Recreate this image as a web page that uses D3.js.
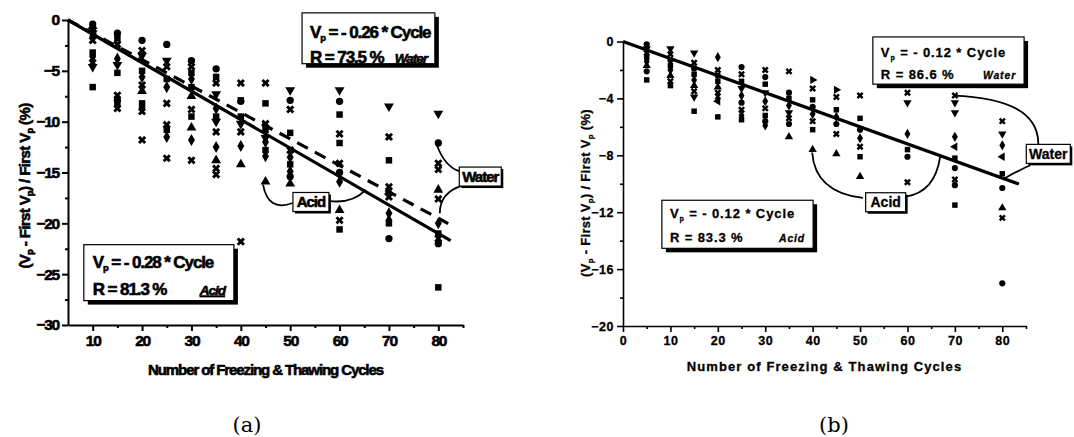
<!DOCTYPE html>
<html lang="en">
<head>
<meta charset="UTF-8">
<title>Vp change vs freezing and thawing cycles</title>
<script src="https://d3js.org/d3.v7.min.js"></script>
<style>
  body { margin: 0; background: #fff; }
  svg text { fill: #000; }
</style>
</head>
<body>
<div id="chart"></div>
<script>
// ---- panel (a) data : [cycle, (Vp - first Vp)/first Vp %] ----
var aCircle = [[10,-0.4],[15,-1.3],[15,-7.9],[20,-2.0],[25,-2.4],[30,-4.0],[35,-4.8],[40,-8.0],[50,-7.9],[50,-15.4],[60,-8.0],[60,-15.0],[70,-21.5],[80,-12.1],[80,-22.0]];
var aSquare = [[10,-1.0],[10,-3.2],[10,-6.6],[15,-1.8],[15,-5.2],[15,-8.2],[20,-5.0],[20,-8.2],[25,-5.8],[25,-10.8],[30,-5.2],[30,-6.6],[30,-9.5],[35,-5.6],[35,-9.5],[40,-7.9],[40,-9.5],[45,-8.2],[45,-10.8],[45,-12.8],[50,-11.1],[50,-14.2],[60,-9.3],[60,-12.1],[60,-20.6],[70,-13.8],[70,-20.0],[80,-21.0],[80,-26.3]];
var aTriUp = [[10,-0.6],[20,-7.0],[30,-7.5],[30,-10.6],[35,-13.8],[40,-14.2],[45,-15.9],[50,-16.1],[60,-18.7],[70,-16.9],[80,-16.7]];
var aTriDown = [[10,-1.3],[10,-4.6],[15,-4.4],[20,-3.5],[25,-4.0],[35,-7.3],[35,-10.0],[40,-10.2],[45,-11.6],[50,-6.9],[60,-6.9],[70,-8.5],[80,-9.2]];
var aDiamond = [[10,-1.6],[10,-3.6],[15,-3.8],[20,-5.6],[20,-8.6],[25,-6.6],[25,-11.5],[30,-5.8],[30,-11.8],[35,-8.7],[35,-12.5],[40,-12.4],[45,-12.0],[45,-13.4],[50,-13.5],[50,-14.9],[60,-15.9],[70,-19.0],[70,-19.7],[80,-20.0]];
var aCross = [[10,-2.0],[10,-4.2],[15,-2.4],[15,-7.4],[15,-8.7],[20,-3.0],[20,-6.4],[20,-9.0],[20,-11.8],[25,-4.6],[25,-8.2],[25,-10.3],[25,-13.6],[30,-4.6],[30,-8.8],[30,-13.8],[35,-6.2],[35,-11.0],[35,-14.6],[35,-15.2],[40,-6.2],[40,-11.0],[40,-21.8],[45,-6.2],[45,-10.2],[50,-8.8],[50,-12.8],[60,-11.2],[60,-14.1],[60,-19.7],[70,-11.5],[70,-16.4],[70,-17.4],[80,-14.1],[80,-14.7],[80,-17.6],[80,-21.5]];
var aXTicks = [10, 20, 30, 40, 50, 60, 70, 80];
var aYTicks = [0, -5, -10, -15, -20, -25, -30];
// fitted lines: slope per cycle, start cycle, end cycle
var aAcidFit = [-0.28, 5, 82.5];
var aWaterFit = [-0.26, 5, 82];

// ---- panel (b) data ----
var bCircle = [[5,-0.2],[5,-2.1],[10,-1.3],[15,-1.9],[20,-2.4],[25,-1.8],[25,-4.3],[30,-2.5],[30,-5.6],[35,-3.6],[35,-5.8],[40,-4.6],[45,-5.8],[50,-6.2],[60,-8.1],[70,-8.9],[70,-10.1],[80,-10.3],[80,-17.0]];
var bSquare = [[5,-1.1],[5,-2.7],[10,-1.7],[10,-3.1],[15,-2.3],[15,-4.9],[20,-2.8],[20,-5.3],[25,-2.8],[25,-5.5],[30,-3.0],[30,-5.2],[35,-4.0],[40,-4.1],[40,-6.2],[45,-4.8],[50,-5.4],[50,-8.1],[60,-7.6],[70,-8.2],[70,-11.5],[80,-9.3]];
var bTriUp = [[5,-1.7],[10,-2.4],[15,-3.1],[20,-3.2],[35,-6.7],[40,-7.6],[45,-7.9],[50,-9.5],[80,-11.7]];
var bTriDown = [[5,-0.5],[10,-0.5],[15,-0.8],[15,-3.9],[25,-3.3],[30,-3.6],[35,-5.0],[60,-4.3],[70,-4.3],[70,-5.0],[80,-6.5]];
var bTriLeft = [[20,-4.2],[70,-7.4],[80,-8.1]];
var bTriRight = [[40,-2.7],[45,-3.4]];
var bDiamond = [[5,-1.4],[10,-2.0],[15,-2.7],[20,-1.1],[20,-4.0],[25,-3.8],[25,-5.2],[30,-4.2],[30,-5.9],[35,-4.5],[40,-5.1],[45,-5.3],[50,-6.8],[60,-6.5],[70,-6.7],[80,-7.3]];
var bCross = [[5,-0.8],[10,-0.9],[10,-2.8],[15,-1.5],[15,-3.5],[20,-2.0],[20,-3.6],[25,-2.3],[25,-4.8],[30,-2.0],[30,-4.7],[35,-2.1],[35,-5.4],[40,-3.3],[40,-5.6],[45,-3.9],[45,-6.5],[50,-3.8],[50,-7.4],[60,-3.6],[60,-9.9],[70,-3.8],[70,-9.7],[80,-5.6],[80,-12.4]];
var bXTicks = [0, 10, 20, 30, 40, 50, 60, 70, 80];
var bYTicks = [0, -4, -8, -12, -16, -20];
var bFit = [-0.12, 0, 83.5];

var svg = d3.select("#chart").append("svg")
  .attr("width", 1074)
  .attr("height", 437);

var shapes = {
  circle:  { type: d3.symbolCircle,   rot: 0 },
  square:  { type: d3.symbolSquare,   rot: 0 },
  triUp:   { type: d3.symbolTriangle, rot: 0 },
  triDown: { type: d3.symbolTriangle, rot: 180 },
  triLeft: { type: d3.symbolTriangle, rot: -90 },
  triRight:{ type: d3.symbolTriangle, rot: 90 },
  diamond: { type: d3.symbolDiamond,  rot: 0 },
  cross:   { type: d3.symbolCross,    rot: 45 }
};

function drawPanel(p) {
  var g = svg.append("g");
  var x = d3.scaleLinear().domain(p.xDomain).range(p.xRange);
  var y = d3.scaleLinear().domain(p.yDomain).range(p.yRange);
  var font = p.font;

  // heavier text for the scanned look
  function ink(t) {
    return t.attr("stroke", "#000").attr("stroke-width", p.ink).attr("paint-order", "stroke");
  }

  // minor ticks
  g.append("g")
    .attr("transform", "translate(0," + p.yRange[1] + ")")
    .call(d3.axisBottom(x).tickValues(p.xMinor).tickSize(3).tickFormat(""))
    .call(function(a){ a.select(".domain").remove(); a.selectAll("line").attr("stroke-width", p.axisW); });
  g.append("g")
    .attr("transform", "translate(" + p.xRange[0] + ",0)")
    .call(d3.axisLeft(y).tickValues(p.yMinor).tickSize(3).tickFormat(""))
    .call(function(a){ a.select(".domain").remove(); a.selectAll("line").attr("stroke-width", p.axisW); });

  // main axes
  var xa = g.append("g")
    .attr("transform", "translate(0," + p.yRange[1] + ")")
    .call(d3.axisBottom(x).tickValues(p.xTicks).tickSize(6).tickSizeOuter(0).tickPadding(4));
  var ya = g.append("g")
    .attr("transform", "translate(" + p.xRange[0] + ",0)")
    .call(d3.axisLeft(y).tickValues(p.yTicks).tickSize(6).tickSizeOuter(0).tickPadding(3));
  [xa, ya].forEach(function(a) {
    a.select(".domain").attr("stroke-width", p.axisW);
    a.selectAll("line").attr("stroke-width", p.axisW);
    ink(a.selectAll("text")
      .attr("font-family", font)
      .attr("font-weight", "bold")
      .attr("font-size", p.tickSize)
      .attr("letter-spacing", p.tickSpacing)
      .attr("fill", "#000"));
  });

  // axis titles
  ink(g.append("text")
    .attr("x", (p.xRange[0] + p.xRange[1]) / 2 + p.xTitleDx)
    .attr("y", p.xTitleY)
    .attr("text-anchor", "middle")
    .attr("font-family", font)
    .attr("font-weight", "bold")
    .attr("font-size", p.titleSize)
    .attr("letter-spacing", p.titleSpacing)
    .text("Number of Freezing & Thawing Cycles"));

  var yt = ink(g.append("text")
    .attr("transform", "translate(" + p.yTitleX + "," + p.yTitleY + ") rotate(-90)")
    .attr("text-anchor", "middle")
    .attr("font-family", font)
    .attr("font-weight", "bold")
    .attr("font-size", p.titleSize)
    .attr("letter-spacing", p.ySpacing));
  yt.append("tspan").text("(V");
  yt.append("tspan").attr("font-size", p.titleSize * 0.6).attr("dy", 3).text("p");
  yt.append("tspan").attr("dy", -3).text(" - First  V");
  yt.append("tspan").attr("font-size", p.titleSize * 0.6).attr("dy", 3).text("p");
  yt.append("tspan").attr("dy", -3).text(") / First  V");
  yt.append("tspan").attr("font-size", p.titleSize * 0.6).attr("dy", 3).text("p");
  yt.append("tspan").attr("dy", -3).text(" (%)");

  // markers
  p.series.forEach(function(s) {
    var sh = shapes[s.shape];
    g.append("g").selectAll("path")
      .data(s.data)
      .join("path")
      .attr("d", d3.symbol().type(sh.type).size(p.markSize))
      .attr("transform", function(d) {
        return "translate(" + x(d[0]) + "," + y(d[1]) + ") rotate(" + sh.rot + ")";
      })
      .attr("fill", "#000");
  });

  // fitted lines
  p.fits.forEach(function(f) {
    var fit = f.fit;
    var pts = [[fit[1], 0], [fit[2], fit[0] * (fit[2] - fit[1])]];
    g.append("path")
      .attr("d", d3.line().x(function(d){ return x(d[0]); }).y(function(d){ return y(d[1]); })(pts))
      .attr("fill", "none")
      .attr("stroke", "#000")
      .attr("stroke-width", f.width)
      .attr("stroke-dasharray", f.dash || null);
  });

  // callout curves
  p.curves.forEach(function(c) {
    var path = d3.path();
    path.moveTo(x(c[0][0]), y(c[0][1]));
    path.quadraticCurveTo(x(c[1][0]), y(c[1][1]), x(c[2][0]), y(c[2][1]));
    g.append("path")
      .attr("d", path.toString())
      .attr("fill", "none")
      .attr("stroke", "#000")
      .attr("stroke-width", 1.8);
  });

  // small labels (Acid / Water)
  p.tags.forEach(function(t) {
    var cx = x(t.at[0]), cy = y(t.at[1]);
    g.append("rect")
      .attr("x", cx - t.w / 2 + 2).attr("y", cy - t.h / 2 + 2)
      .attr("width", t.w).attr("height", t.h).attr("fill", "#000");
    g.append("rect")
      .attr("x", cx - t.w / 2).attr("y", cy - t.h / 2)
      .attr("width", t.w).attr("height", t.h)
      .attr("fill", "#fff").attr("stroke", "#000").attr("stroke-width", 1.2);
    ink(g.append("text")
      .attr("x", cx).attr("y", cy + t.size * 0.36)
      .attr("text-anchor", "middle")
      .attr("font-family", font)
      .attr("font-weight", "bold")
      .attr("font-size", t.size)
      .attr("letter-spacing", t.spacing)
      .text(t.text));
  });

  // equation boxes
  p.boxes.forEach(function(b) {
    var x0 = x(b.x0), x1 = x(b.x1), y0 = y(b.y0), y1 = y(b.y1);
    g.append("rect")
      .attr("x", x0 + 4).attr("y", y0 + 4)
      .attr("width", x1 - x0).attr("height", y1 - y0).attr("fill", "#000");
    g.append("rect")
      .attr("x", x0).attr("y", y0)
      .attr("width", x1 - x0).attr("height", y1 - y0)
      .attr("fill", "#fff").attr("stroke", "#000").attr("stroke-width", 1.2);
    var tx = x0 + b.pad;
    var l1 = ink(g.append("text")
      .attr("x", tx).attr("y", y0 + b.line1)
      .attr("font-family", font).attr("font-weight", "bold")
      .attr("font-size", b.size).attr("letter-spacing", b.spacing));
    l1.append("tspan").text("V");
    l1.append("tspan").attr("font-size", b.size * 0.55).attr("dy", 3).text("p");
    l1.append("tspan").attr("dy", -3).text(b.eq);
    ink(g.append("text")
      .attr("x", tx).attr("y", y0 + b.line2)
      .attr("font-family", font).attr("font-weight", "bold")
      .attr("font-size", b.size).attr("letter-spacing", b.spacing)
      .text(b.r));
    ink(g.append("text")
      .attr("x", x1 - b.pad).attr("y", y0 + b.line2)
      .attr("text-anchor", "end")
      .attr("font-family", font).attr("font-weight", "bold")
      .attr("font-style", "italic")
      .attr("font-size", b.size * 0.8)
      .attr("letter-spacing", b.spacing)
      .attr("text-decoration", b.underline ? "underline" : null)
      .text(b.tag));
  });
}

drawPanel({
  xDomain: [5, 85], xRange: [68, 463],
  yDomain: [0, -30], yRange: [20, 325],
  xTicks: aXTicks, xMinor: [15, 25, 35, 45, 55, 65, 75, 85],
  yTicks: aYTicks, yMinor: [-2.5, -7.5, -12.5, -17.5, -22.5, -27.5],
  font: "'Liberation Sans', Arial, sans-serif",
  ink: 0.6,
  axisW: 2, tickSize: 15.5, tickSpacing: -1.2,
  titleSize: 15, titleSpacing: -1.1, ySpacing: -0.6,
  xTitleDx: 0, xTitleY: 375, yTitleX: 30, yTitleY: 186,
  markSize: 42,
  series: [
    { shape: "circle", data: aCircle }, { shape: "square", data: aSquare },
    { shape: "triUp", data: aTriUp }, { shape: "triDown", data: aTriDown },
    { shape: "diamond", data: aDiamond }, { shape: "cross", data: aCross }
  ],
  fits: [
    { fit: aAcidFit, width: 3.2 },
    { fit: aWaterFit, width: 3.2, dash: "12,8" }
  ],
  curves: [
    [[50.5, -18.0], [45.5, -18.9], [44.5, -16.2]],
    [[57.8, -17.8], [62.5, -18.1], [65.3, -16.7]],
    [[79.7, -12.3], [81.4, -14.5], [84.4, -14.9]],
    [[84.8, -16.3], [80.3, -17.0], [80.3, -19.0]]
  ],
  tags: [
    { text: "Acid", at: [54.2, -17.9], w: 36, h: 19, size: 15, spacing: -1 },
    { text: "Water", at: [88.5, -15.4], w: 42, h: 19, size: 15, spacing: -1 }
  ],
  boxes: [
    { x0: 52.4, x1: 79.3, y0: 0.7, y1: -4.3, pad: 8, line1: 25, line2: 50, size: 17, spacing: -1.1,
      eq: " = - 0.26 * Cycle", r: "R = 73.5 %", tag: "Water", underline: true },
    { x0: 8.2, x1: 38.6, y0: -22.1, y1: -27.6, pad: 9, line1: 23, line2: 50, size: 17, spacing: -1.1,
      eq: " = - 0.28 * Cycle", r: "R = 81.3 %", tag: "Acid", underline: true }
  ]
});

drawPanel({
  xDomain: [0, 85], xRange: [623, 1026],
  yDomain: [0, -20], yRange: [41.5, 326],
  xTicks: bXTicks, xMinor: [5, 15, 25, 35, 45, 55, 65, 75, 85],
  yTicks: bYTicks, yMinor: [-2, -6, -10, -14, -18],
  font: "'Liberation Sans', Arial, sans-serif",
  ink: 0.3,
  axisW: 1.6, tickSize: 12.5, tickSpacing: 0.5,
  titleSize: 13, titleSpacing: 1.1, ySpacing: 0.3,
  xTitleDx: 0, xTitleY: 371, yTitleX: 590, yTitleY: 193,
  markSize: 30,
  series: [
    { shape: "circle", data: bCircle }, { shape: "square", data: bSquare },
    { shape: "triUp", data: bTriUp }, { shape: "triDown", data: bTriDown },
    { shape: "triLeft", data: bTriLeft }, { shape: "triRight", data: bTriRight },
    { shape: "diamond", data: bDiamond }, { shape: "cross", data: bCross }
  ],
  fits: [ { fit: bFit, width: 3.2 } ],
  curves: [
    [[50.6, -11.0], [40.5, -10.6], [39.9, -7.8]],
    [[59.7, -10.9], [65.8, -10.6], [66.9, -8.1]],
    [[69.6, -3.8], [87.6, -4.0], [87.6, -7.2]],
    [[85.9, -8.7], [83.8, -9.0], [80.6, -9.6]]
  ],
  tags: [
    { text: "Acid", at: [55.4, -11.3], w: 40, h: 19, size: 14, spacing: 0 },
    { text: "Water", at: [89.7, -7.9], w: 44, h: 19, size: 14, spacing: 0 }
  ],
  boxes: [
    { x0: 52.7, x1: 84.6, y0: 0.32, y1: -3.0, pad: 8, line1: 20, line2: 42, size: 13, spacing: 0.9,
      eq: " = - 0.12 * Cycle", r: "R = 86.6 %", tag: "Water", underline: false },
    { x0: 8.2, x1: 40.1, y0: -11.16, y1: -14.54, pad: 8, line1: 18, line2: 42, size: 13, spacing: 0.9,
      eq: " = - 0.12 * Cycle", r: "R = 83.3 %", tag: "Acid", underline: false }
  ]
});

// sub-figure captions
svg.selectAll(".cap")
  .data([["(a)", 247], ["(b)", 834]])
  .join("text")
  .attr("class", "cap")
  .attr("x", function(d){ return d[1]; })
  .attr("y", 432)
  .attr("text-anchor", "middle")
  .attr("font-family", "'DejaVu Serif', 'Liberation Serif', serif")
  .attr("font-size", 21)
  .text(function(d){ return d[0]; });
</script>
</body>
</html>
